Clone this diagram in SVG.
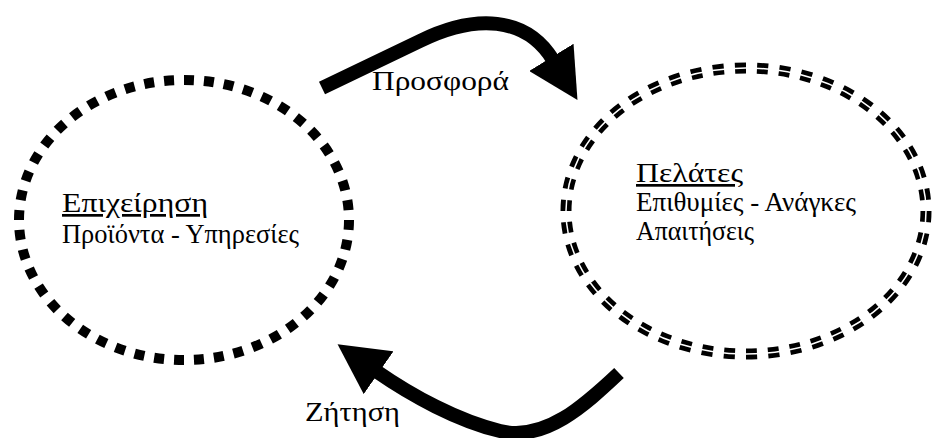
<svg xmlns="http://www.w3.org/2000/svg" width="932" height="438" viewBox="0 0 932 438">
<style>
.t{font-family:"Liberation Serif","DejaVu Serif",serif;font-size:27px;fill:#000}
.u{text-decoration:underline}
.dotA{fill:none;stroke:#000;stroke-width:10;stroke-dasharray:10 10}
.dotB{fill:none;stroke:#000;stroke-width:11;stroke-dasharray:11 11}
.gap{fill:none;stroke:#fff;stroke-width:1.5}
.arrow{fill:none;stroke:#000;stroke-width:14}
</style>
<defs>
<marker id="head" markerUnits="userSpaceOnUse" markerWidth="50" markerHeight="52" viewBox="0 0 48 50" refX="3" refY="25" orient="auto">
<path d="M0,0 L48,25 L0,50 z" fill="#000"/>
</marker>
</defs>
<rect width="932" height="438" fill="#fff"/>
<g id="node-business">
<ellipse class="dotA" cx="184" cy="220" rx="165" ry="140" pathLength="960"/>
<text class="t u" x="62" y="212" textLength="146" lengthAdjust="spacingAndGlyphs">Επιχείρηση</text>
<text class="t" x="62" y="243" textLength="237" lengthAdjust="spacingAndGlyphs">Προϊόντα - Υπηρεσίες</text>
</g>
<g id="node-customers">
<ellipse class="dotB" cx="746" cy="211" rx="180" ry="143" pathLength="1012"/>
<ellipse class="gap" cx="746" cy="211" rx="180" ry="143"/>
<text class="t u" x="636" y="182" textLength="107" lengthAdjust="spacingAndGlyphs">Πελάτες</text>
<text class="t" x="636" y="211" textLength="220" lengthAdjust="spacingAndGlyphs">Επιθυμίες - Ανάγκες</text>
<text class="t" x="636" y="240" textLength="118" lengthAdjust="spacingAndGlyphs">Απαιτήσεις</text>
</g>
<g id="connectors">
<g id="edge-offer">
<path class="arrow" d="M322,88 L420,41 C475,14 526,16 553,60" marker-end="url(#head)"/>
<text class="t" x="372" y="90" textLength="137" lengthAdjust="spacingAndGlyphs">Προσφορά</text>
</g>
<g id="edge-demand">
<path class="arrow" d="M619,373 C585,405 545,442 500,431 C458,421 412,396 376,371" marker-end="url(#head)"/>
<text class="t" x="305" y="421" textLength="95" lengthAdjust="spacingAndGlyphs">Ζήτηση</text>
</g>
</g>
</svg>
